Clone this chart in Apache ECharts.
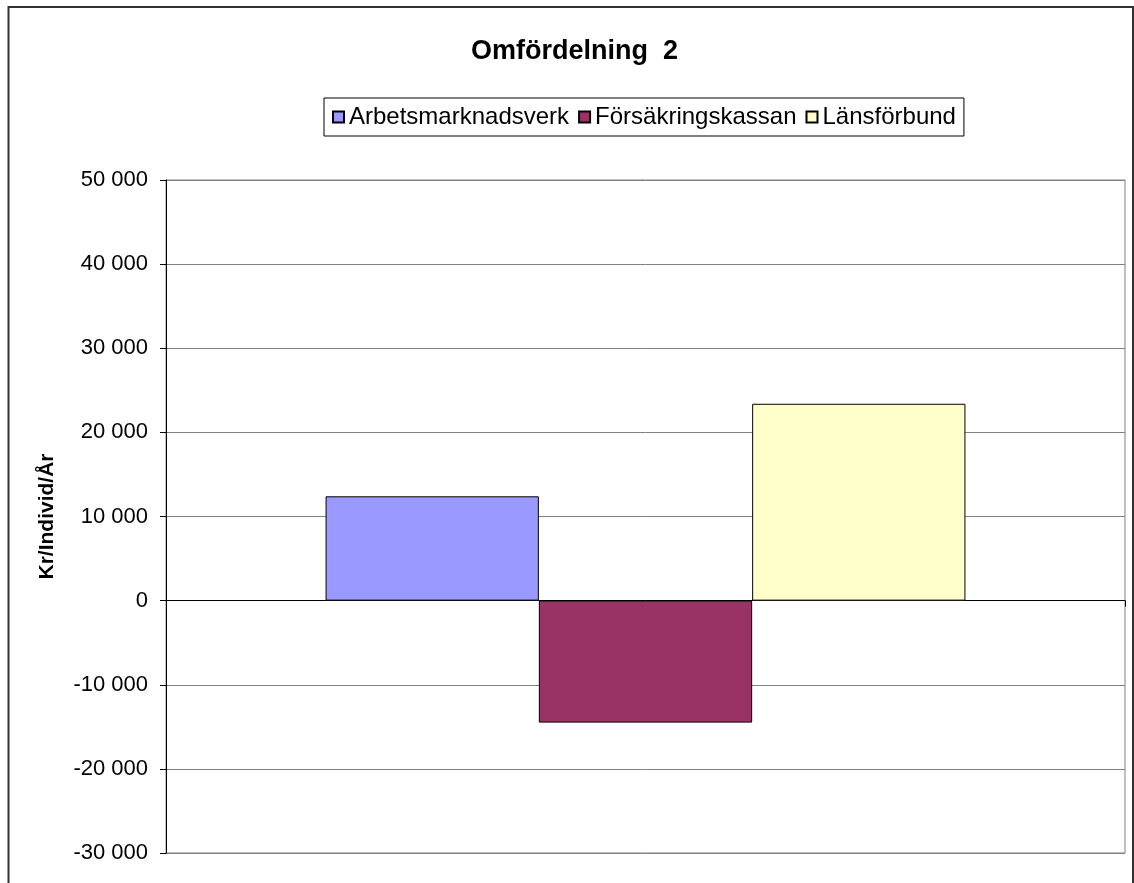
<!DOCTYPE html>
<html>
<head>
<meta charset="utf-8">
<script src="https://cdn.jsdelivr.net/npm/echarts@6/dist/echarts.min.js"></script>
<style>
  html, body { margin: 0; padding: 0; background: #fff; }
  #chart { width: 1134px; height: 883px; }
</style>
</head>
<body>
<div id="chart"></div>
<script>
  // data
  const categories = [''];
  const seriesNames = ['Arbetsmarknadsverk', 'Försäkringskassan', 'Länsförbund'];
  const arbetsmarknadsverk = [12400];
  const forsakringskassan = [-14500];
  const lansforbund = [23400];
  const seriesColors = ['#9999FF', '#993366', '#FFFFCC'];

  const font = 'Arial, "Liberation Sans", sans-serif';
  const myChart = echarts.init(document.getElementById('chart'));

  function fmt(v) {
    const s = String(Math.abs(v)).replace(/\B(?=(\d{3})+(?!\d))/g, ' ');
    return (v < 0 ? '-' : '') + s;
  }

  const values = [arbetsmarknadsverk, forsakringskassan, lansforbund];

  const option = {
    animation: false,
    backgroundColor: '#fff',
    title: {
      text: 'Omfördelning  2',
      left: 466,
      top: 33,
      textStyle: { fontFamily: font, fontSize: 27, fontWeight: 'bold', color: '#000' }
    },
    legend: {
      data: seriesNames,
      left: 324,
      top: 98,
      padding: [7, 8],
      itemGap: 9,
      itemWidth: 11,
      itemHeight: 11,
      icon: 'rect',
      borderColor: '#000',
      borderWidth: 1,
      textStyle: { fontFamily: font, fontSize: 24, color: '#000' }
    },
    grid: {
      left: 166,
      right: 9,
      top: 180,
      bottom: 30,
      show: true,
      borderColor: '#808080',
      borderWidth: 1
    },
    xAxis: {
      type: 'category',
      data: categories,
      axisLine: { onZero: true, lineStyle: { color: '#000', width: 1 } },
      axisTick: { show: true, length: 6, lineStyle: { color: '#000' } },
      axisLabel: { show: false }
    },
    yAxis: {
      type: 'value',
      min: -30000,
      max: 50000,
      interval: 10000,
      name: 'Kr/Individ/År',
      nameLocation: 'middle',
      nameGap: 108,
      nameTextStyle: { fontFamily: font, fontSize: 21, fontWeight: 'bold', color: '#000' },
      axisLine: { show: true, lineStyle: { color: '#000', width: 1 } },
      axisTick: { show: true, length: 6, lineStyle: { color: '#000' } },
      axisLabel: {
        margin: 18,
        fontFamily: font,
        fontSize: 22,
        color: '#000',
        formatter: fmt
      },
      splitLine: { show: true, lineStyle: { color: '#808080', width: 1 } }
    },
    series: seriesNames.map((name, i) => ({
      name: name,
      type: 'bar',
      data: values[i],
      barWidth: '22.24%',
      barGap: '0%',
      itemStyle: { color: seriesColors[i], borderColor: '#000', borderWidth: 1 }
    })),
    graphic: [{
      type: 'rect',
      shape: { x: 8.5, y: 7, width: 1124.5, height: 900 },
      style: { fill: 'none', stroke: '#333', lineWidth: 2 },
      silent: true
    }]
  };

  myChart.setOption(option);
</script>
</body>
</html>
